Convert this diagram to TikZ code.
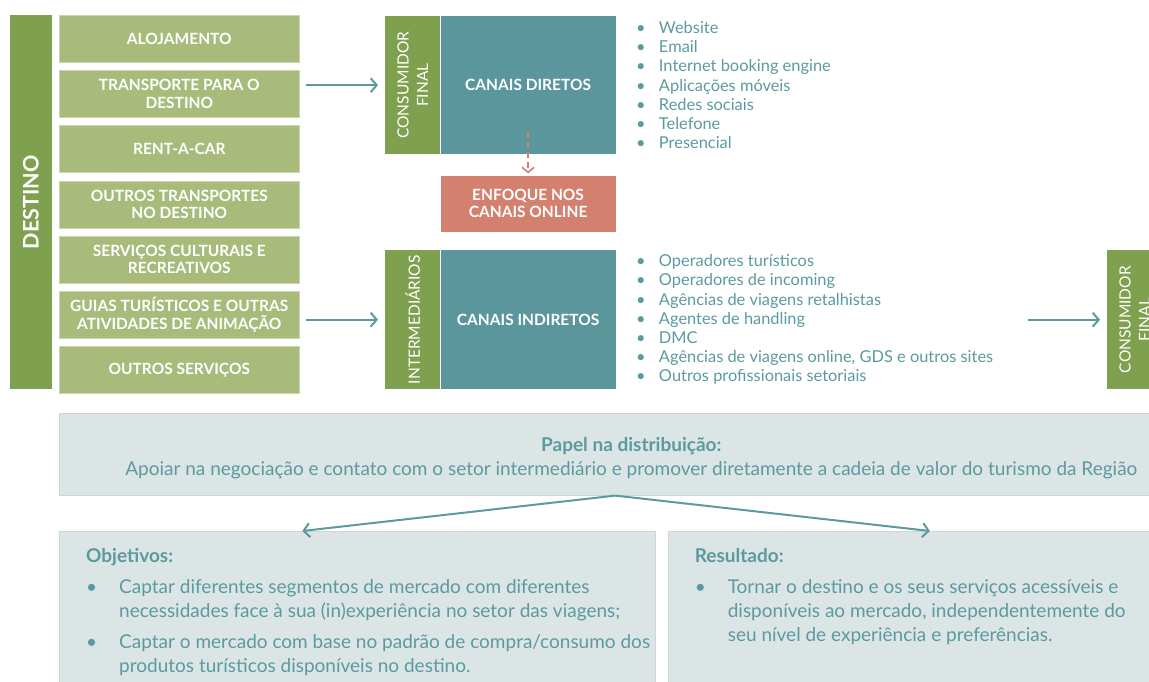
\documentclass[tikz,border=0pt]{standalone}
\usepackage{fontspec}
\setmainfont{Lato}
\usetikzlibrary{positioning,arrows.meta}

\definecolor{dgreen}{HTML}{7FA04E}
\definecolor{lgreen}{HTML}{A9BB7B}
\definecolor{chanteal}{HTML}{5A969C}
\definecolor{salmon}{HTML}{D4806F}
\definecolor{tealtxt}{HTML}{5B9AA0}
\definecolor{pale}{HTML}{DCE5E5}

\newcommand{\bul}[1][23pt]{\makebox[#1][l]{\textbullet}}
\newcommand{\cont}[1][33pt]{\hspace*{#1}}

\begin{document}
\begin{tikzpicture}[x=1pt,y=-1pt,
  node distance=7.6pt,
  svc/.style={fill=lgreen,draw=lgreen!60!white,line width=0.6pt,inner sep=0pt,
              minimum width=240pt,minimum height=47pt,align=center,text=white,
              font=\fontsize{15.5}{17.5}\bfseries\selectfont},
  strip/.style={fill=dgreen,minimum width=55pt,inner sep=0pt},
  rot/.style={rotate=90,text=white,align=center,
              font=\fontsize{15.5}{19.5}\selectfont},
  chan/.style={fill=chanteal,minimum width=175pt,inner sep=0pt,text=white,
               font=\fontsize{15.5}{17.5}\bfseries\selectfont},
  focus/.style={fill=salmon,minimum width=175pt,minimum height=56pt,inner sep=0pt,
                align=center,text=white,font=\fontsize{15.5}{17.5}\bfseries\selectfont},
  lst/.style={align=left,inner sep=0pt,text=tealtxt,
              font=\fontsize{16.4}{19.2}\selectfont},
  info/.style={fill=pale,draw=black!17,line width=0.6pt,inner sep=0pt},
  txt/.style={align=left,inner sep=0pt,text=tealtxt,
              font=\fontsize{19}{24}\selectfont},
  arr/.style={-{Straight Barb[length=6pt,width=14pt,line width=2pt]},
              line width=2pt,draw=tealtxt},
  dasharr/.style={-{Straight Barb[length=5pt,width=12pt,line width=1.6pt]},
                  line width=1.6pt,draw=salmon,dash pattern=on 6pt off 4pt}]
  \useasboundingbox (0,0) rectangle (1149,682);
  \clip (0,0) rectangle (1149,682);

  \node[svc,anchor=north west] (aloj) at (59,15) {ALOJAMENTO};
  \node[svc,below=of aloj] (transp) {TRANSPORTE PARA O\\DESTINO};
  \node[svc,below=of transp] (rent) {RENT-A-CAR};
  \node[svc,below=of rent] (outtr) {OUTROS TRANSPORTES\\NO DESTINO};
  \node[svc,below=of outtr] (cult) {SERVIÇOS CULTURAIS E\\RECREATIVOS};
  \node[svc,below=of cult] (guias) {GUIAS TURÍSTICOS E OUTRAS\\ATIVIDADES DE ANIMAÇÃO};
  \node[svc,below=of guias] (outsv) {OUTROS SERVIÇOS};

  \node[strip,minimum width=42pt,minimum height=374pt,anchor=north east]
    (destino) at ([xshift=-7pt]aloj.north west) {};
  \node[rot,font=\fontsize{21.5}{24}\bfseries\selectfont] at (destino) {DESTINO};

  \node[strip,minimum height=138pt,anchor=north west] (final1) at (385,16) {};
  \node[rot] at (final1) {CONSUMIDOR\\FINAL};
  \node[chan,minimum height=138pt,right=0pt of final1] (diretos) {CANAIS DIRETOS};
  \node[focus,below=21pt of diretos] (online) {ENFOQUE NOS\\CANAIS ONLINE};
  \node[lst,right=20pt of diretos] (dirlist) {\bul Website\\\bul Email\\
    \bul Internet booking engine\\\bul Aplicações móveis\\\bul Redes sociais\\
    \bul Telefone\\\bul Presencial};

  \node[strip,minimum height=139pt,anchor=north west] (interm) at (385,250) {};
  \node[rot] at (interm) {INTERMEDIÁRIOS};
  \node[chan,minimum height=139pt,right=0pt of interm] (indiretos) {CANAIS INDIRETOS};
  \node[lst,right=20pt of indiretos] (indlist) {\bul Operadores turísticos\\
    \bul Operadores de incoming\\\bul Agências de viagens retalhistas\\
    \bul Agentes de handling\\\bul DMC\\
    \bul Agências de viagens online, GDS e outros sites\\
    \bul Outros profissionais setoriais};

  \node[strip,minimum height=139pt,anchor=north west] (final2) at (1107,250) {};
  \node[rot] at (final2) {CONSUMIDOR\\FINAL};

  \draw[arr,shorten <=6pt,shorten >=7pt] (final1.west -| transp.east) -- (final1.west);
  \draw[arr,shorten <=6pt,shorten >=7pt] (interm.west -| guias.east) -- (interm.west);
  \draw[arr,shorten >=7pt] ([xshift=-79pt]final2.west) -- (final2.west);
  \draw[dasharr,shorten >=2pt] ([yshift=22pt]diretos.south) -- (online.north);

  \node[info,minimum width=1144pt,minimum height=82pt,anchor=north west] (papel) at (59,413) {};
  \node[txt,align=center] (papeltxt) at ([yshift=-4pt]papel.center)
    {\textbf{Papel na distribuição:}\\Apoiar na negociação e contato com o setor
     intermediário e promover diretamente a cadeia de valor do turismo da Região};

  \node[info,minimum width=596pt,minimum height=160pt,anchor=north west] (obj) at (59,531) {};
  \node[info,minimum width=536pt,minimum height=160pt,right=12pt of obj] (res) {};

  \node[txt,anchor=north west] (objtxt) at ([xshift=27pt,yshift=-17.5pt]obj.north west)
    {\textbf{Objetivos:}\\[7pt]
     \bul[33pt]Captar diferentes segmentos de mercado com diferentes\\
     \cont necessidades face à sua (in)experiência no setor das viagens;\\[7pt]
     \bul[33pt]Captar o mercado com base no padrão de compra/consumo dos\\
     \cont produtos turísticos disponíveis no destino.};
  \node[txt,anchor=north west] (restxt) at ([xshift=27pt,yshift=-17.5pt]res.north west)
    {\textbf{Resultado:}\\[7pt]
     \bul[33pt]Tornar o destino e os seus serviços acessíveis e\\
     \cont disponíveis ao mercado, independentemente do\\
     \cont seu nível de experiência e preferências.};

  \coordinate (apex) at ([xshift=-16pt]papel.south);
  \draw[arr] (apex) -- ([xshift=-55pt]obj.north);
  \draw[arr] (apex) -- ([xshift=-6pt]res.north);
\end{tikzpicture}
\end{document}
